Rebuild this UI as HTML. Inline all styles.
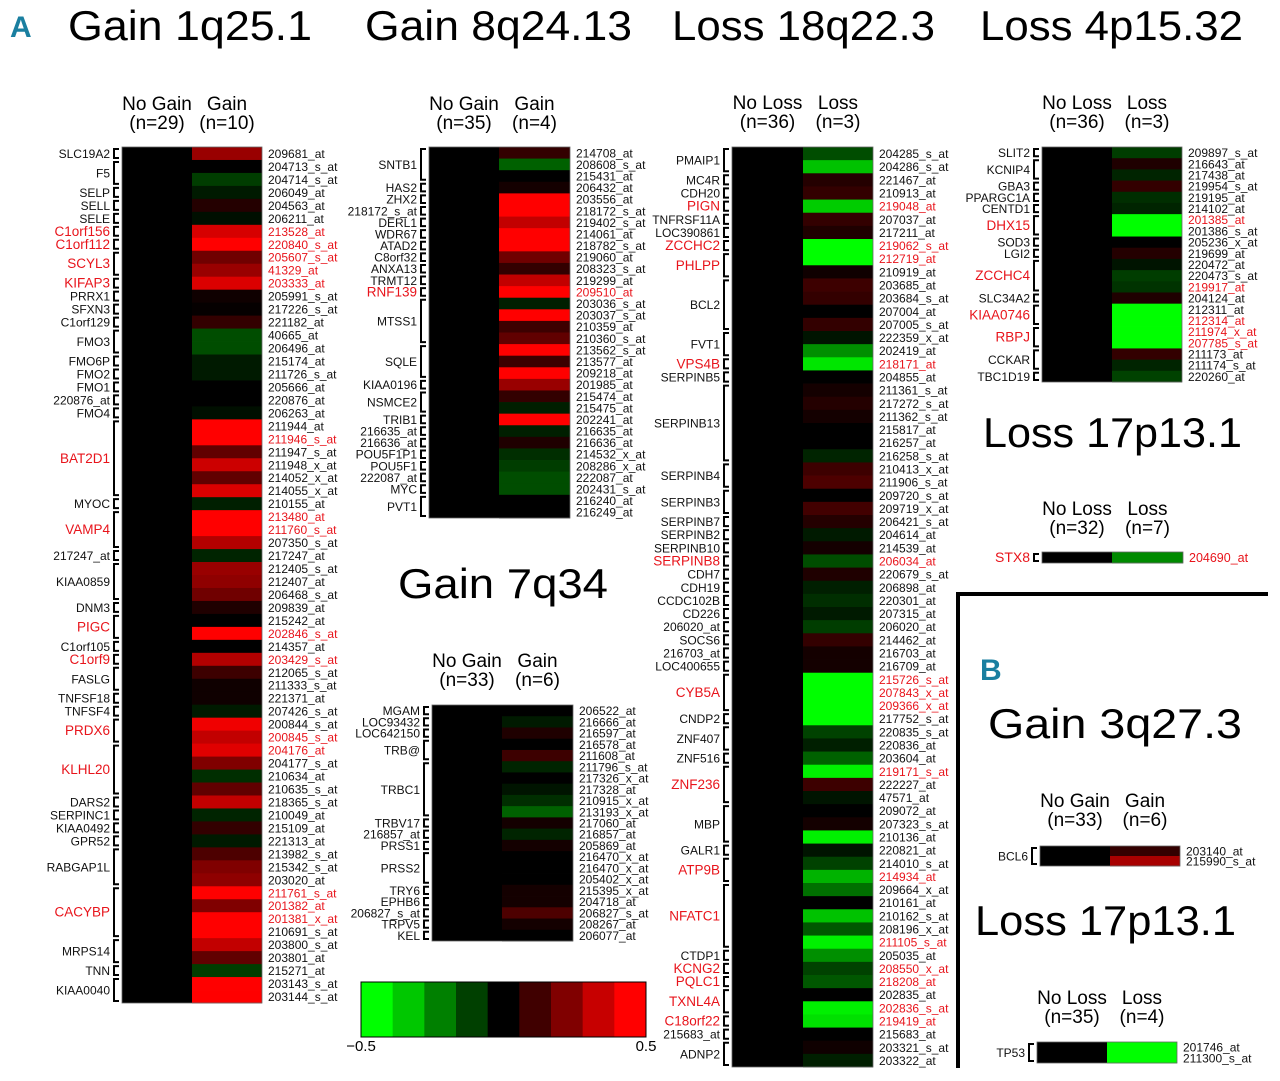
<!DOCTYPE html>
<html><head><meta charset="utf-8">
<style>
html,body{margin:0;padding:0;background:#fff;}
svg{display:block;font-family:"Liberation Sans",sans-serif;}
</style></head>
<body>
<svg id="fig" width="1280" height="1081" viewBox="0 0 1280 1081" xmlns="http://www.w3.org/2000/svg">
  <rect x="0" y="0" width="1280" height="1081" fill="#fff"/>
  <text x="10" y="37" font-size="30" font-weight="bold" fill="#1a7fa0">A</text>
  <text x="68" y="40" font-size="42" textLength="244" lengthAdjust="spacingAndGlyphs">Gain  1q25.1</text>
  <text x="365" y="40" font-size="42" textLength="267" lengthAdjust="spacingAndGlyphs">Gain  8q24.13</text>
  <text x="672" y="40" font-size="42" textLength="263" lengthAdjust="spacingAndGlyphs">Loss  18q22.3</text>
  <text x="980" y="40" font-size="42" textLength="263" lengthAdjust="spacingAndGlyphs">Loss  4p15.32</text>
  <text x="398" y="598" font-size="42" textLength="210" lengthAdjust="spacingAndGlyphs">Gain  7q34</text>
  <text x="983" y="447" font-size="42" textLength="259" lengthAdjust="spacingAndGlyphs">Loss  17p13.1</text>
  <text x="980" y="680" font-size="30" font-weight="bold" fill="#1a7fa0">B</text>
  <text x="988" y="738" font-size="42" textLength="254" lengthAdjust="spacingAndGlyphs">Gain  3q27.3</text>
  <text x="975" y="935" font-size="42" textLength="261" lengthAdjust="spacingAndGlyphs">Loss  17p13.1</text>
  <path d="M1268 594 H958 V1068" fill="none" stroke="#000" stroke-width="4"/>
  <g id="panels"></g>
  <g id="cbar"></g>
</svg>
<script>
// ---------- data ----------
const p1Genes = ["SLC19A2","F5","SELP","SELL","SELE","C1orf156","C1orf112","SCYL3","KIFAP3","PRRX1","SFXN3","C1orf129","FMO3","FMO6P","FMO2","FMO1","220876_at","FMO4","BAT2D1","MYOC","VAMP4","217247_at","KIAA0859","DNM3","PIGC","C1orf105","C1orf9","FASLG","TNFSF18","TNFSF4","PRDX6","KLHL20","DARS2","SERPINC1","KIAA0492","GPR52","RABGAP1L","CACYBP","MRPS14","TNN","KIAA0040"];
const p1Sizes = [1,2,1,1,1,1,1,2,1,1,1,1,2,1,1,1,1,1,6,1,3,1,3,1,2,1,1,2,1,1,2,4,1,1,1,1,3,4,2,1,2];
const p1RedGenes = ["C1orf156","C1orf112","SCYL3","KIFAP3","BAT2D1","VAMP4","PIGC","C1orf9","PRDX6","KLHL20","CACYBP"];
const p1Probes = ["209681_at","204713_s_at","204714_s_at","206049_at","204563_at","206211_at","213528_at","220840_s_at","205607_s_at","41329_at","203333_at","205991_s_at","217226_s_at","221182_at","40665_at","206496_at","215174_at","211726_s_at","205666_at","220876_at","206263_at","211944_at","211946_s_at","211947_s_at","211948_x_at","214052_x_at","214055_x_at","210155_at","213480_at","211760_s_at","207350_s_at","217247_at","212405_s_at","212407_at","206468_s_at","209839_at","215242_at","202846_s_at","214357_at","203429_s_at","212065_s_at","211333_s_at","221371_at","207426_s_at","200844_s_at","200845_s_at","204176_at","204177_s_at","210634_at","210635_s_at","218365_s_at","210049_at","215109_at","221313_at","213982_s_at","215342_s_at","203020_at","211761_s_at","201382_at","201381_x_at","210691_s_at","203800_s_at","203801_at","215271_at","203143_s_at","203144_s_at"];
const p1RedProbes = ["213528_at","220840_s_at","205607_s_at","41329_at","203333_at","211946_s_at","213480_at","211760_s_at","202846_s_at","203429_s_at","200845_s_at","204176_at","211761_s_at","201382_at","201381_x_at"];
const p1Values = [0.3,0,-0.12,-0.05,0.07,-0.03,0.42,0.5,0.22,0.3,0.43,0.03,0.01,0.1,-0.15,-0.15,-0.05,-0.05,0,0,-0.03,0.5,0.5,0.19,0.4,0.19,0.43,-0.06,0.5,0.5,0.35,-0.07,0.3,0.28,0.22,0.06,0,0.5,0,0.35,0.12,0.03,0.03,-0.05,0.47,0.38,0.44,0.25,-0.09,0.19,0.38,-0.07,0.1,-0.05,0.15,0.25,0.28,0.5,0.25,0.5,0.5,0.38,0.19,-0.12,0.5,0.5];

const p2Genes = ["SNTB1","HAS2","ZHX2","218172_s_at","DERL1","WDR67","ATAD2","C8orf32","ANXA13","TRMT12","RNF139","MTSS1","SQLE","KIAA0196","NSMCE2","TRIB1","216635_at","216636_at","POU5F1P1","POU5F1","222087_at","MYC","PVT1"];
const p2Sizes = [3,1,1,1,1,1,1,1,1,1,1,4,3,1,2,1,1,1,1,1,1,1,2];
const p2RedGenes = ["RNF139"];
const p2Probes = ["214708_at","208608_s_at","215431_at","206432_at","203556_at","218172_s_at","219402_s_at","214061_at","218782_s_at","219060_at","208323_s_at","219299_at","209510_at","203036_s_at","203037_s_at","210359_at","210360_s_at","213562_s_at","213577_at","209218_at","201985_at","215474_at","215475_at","202241_at","216635_at","216636_at","214532_x_at","208286_x_at","222087_at","202431_s_at","216240_at","216249_at"];
const p2RedProbes = ["209510_at"];
const p2Values = [0.1,-0.19,0,0.04,0.5,0.5,0.38,0.5,0.5,0.22,0.1,0.38,0.5,-0.06,0.5,0.12,0.19,0.5,0.12,0.5,0.3,0.1,-0.06,0.5,-0.06,0.06,-0.09,-0.12,-0.15,-0.15,0,0];

const p3Genes = ["PMAIP1","MC4R","CDH20","PIGN","TNFRSF11A","LOC390861","ZCCHC2","PHLPP","BCL2","FVT1","VPS4B","SERPINB5","SERPINB13","SERPINB4","SERPINB3","SERPINB7","SERPINB2","SERPINB10","SERPINB8","CDH7","CDH19","CCDC102B","CD226","206020_at","SOCS6","216703_at","LOC400655","CYB5A","CNDP2","ZNF407","ZNF516","ZNF236","MBP","GALR1","ATP9B","NFATC1","CTDP1","KCNG2","PQLC1","TXNL4A","C18orf22","215683_at","ADNP2"];
const p3Sizes = [2,1,1,1,1,1,1,2,4,2,1,1,6,2,2,1,1,1,1,1,1,1,1,1,1,1,1,3,1,2,1,3,3,1,2,5,1,1,1,2,1,1,2];
const p3RedGenes = ["PIGN","ZCCHC2","PHLPP","VPS4B","SERPINB8","CYB5A","ZNF236","ATP9B","NFATC1","KCNG2","PQLC1","TXNL4A","C18orf22"];
const p3Probes = ["204285_s_at","204286_s_at","221467_at","210913_at","219048_at","207037_at","217211_at","219062_s_at","212719_at","210919_at","203685_at","203684_s_at","207004_at","207005_s_at","222359_x_at","202419_at","218171_at","204855_at","211361_s_at","217272_s_at","211362_s_at","215817_at","216257_at","216258_s_at","210413_x_at","211906_s_at","209720_s_at","209719_x_at","206421_s_at","204614_at","214539_at","206034_at","220679_s_at","206898_at","220301_at","207315_at","206020_at","214462_at","216703_at","216709_at","215726_s_at","207843_x_at","209366_x_at","217752_s_at","220835_s_at","220836_at","203604_at","219171_s_at","222227_at","47571_at","209072_at","207323_s_at","210136_at","220821_at","214010_s_at","214934_at","209664_x_at","210161_at","210162_s_at","208196_x_at","211105_s_at","205035_at","208550_x_at","218208_at","202835_at","202836_s_at","219419_at","215683_at","203321_s_at","203322_at"];
const p3RedProbes = ["219048_at","219062_s_at","212719_at","218171_at","206034_at","215726_s_at","207843_x_at","209366_x_at","219171_s_at","214934_at","211105_s_at","208550_x_at","218208_at","202836_s_at","219419_at"];
const p3Values = [-0.15,-0.38,0.07,0.1,-0.4,0.1,0.06,-0.5,-0.5,0.03,0.12,0.1,0,0.1,-0.04,-0.28,-0.45,0,0.04,0.07,0.04,0,0,-0.07,0.12,0.15,0,0.13,0.07,-0.05,0.04,-0.15,0.06,-0.06,-0.09,-0.05,-0.12,0.1,0.04,0.04,-0.5,-0.5,-0.5,-0.5,-0.13,-0.06,-0.19,-0.47,0.12,-0.04,0,0.04,-0.47,-0.04,-0.13,-0.35,-0.22,0,-0.38,-0.17,-0.47,-0.28,-0.13,-0.17,0,-0.47,-0.44,0,0.03,-0.06];

const p4Genes = ["SLIT2","KCNIP4","GBA3","PPARGC1A","CENTD1","DHX15","SOD3","LGI2","ZCCHC4","SLC34A2","KIAA0746","RBPJ","CCKAR","TBC1D19"];
const p4Sizes = [1,2,1,1,1,2,1,1,3,1,2,2,2,1];
const p4RedGenes = ["DHX15","ZCCHC4","KIAA0746","RBPJ"];
const p4Probes = ["209897_s_at","216643_at","217438_at","219954_s_at","219195_at","214102_at","201385_at","201386_s_at","205236_x_at","219699_at","220472_at","220473_s_at","219917_at","204124_at","212311_at","212314_at","211974_x_at","207785_s_at","211173_at","211174_s_at","220260_at"];
const p4RedProbes = ["201385_at","219917_at","212314_at","211974_x_at","207785_s_at"];
const p4Values = [-0.12,0.06,-0.07,0.1,-0.09,-0.07,-0.5,-0.5,0,0.07,-0.04,-0.12,-0.1,0.06,-0.5,-0.5,-0.5,-0.5,0.1,-0.07,-0.13];

const p5Genes = ["MGAM","LOC93432","LOC642150","TRB@","TRBC1","TRBV17","216857_at","PRSS1","PRSS2","TRY6","EPHB6","206827_s_at","TRPV5","KEL"];
const p5Sizes = [1,1,1,2,5,1,1,1,3,1,1,1,1,1];
const p5RedGenes = [];
const p5Probes = ["206522_at","216666_at","216597_at","216578_at","211608_at","211796_s_at","217326_x_at","217328_at","210915_x_at","213193_x_at","217060_at","216857_at","205869_at","216470_x_at","216470_x_at","205402_x_at","215395_x_at","204718_at","206827_s_at","208267_at","206077_at"];
const p5RedProbes = [];
const p5Values = [0,-0.05,0.06,0,0.12,-0.07,0,-0.04,-0.09,-0.19,0.04,-0.07,0.04,0,0,0,0.04,0.04,0.15,0.04,0];

const p6Genes = ["STX8"]; const p6Sizes = [1]; const p6RedGenes = ["STX8"];
const p6Probes = ["204690_at"]; const p6RedProbes = ["204690_at"]; const p6Values = [-0.27];
const p7Genes = ["BCL6"]; const p7Sizes = [2]; const p7RedGenes = [];
const p7Probes = ["203140_at","215990_s_at"]; const p7RedProbes = []; const p7Values = [0.1,0.33];
const p8Genes = ["TP53"]; const p8Sizes = [1]; const p8RedGenes = [];
const p8Probes = ["201746_at\n211300_s_at"]; const p8RedProbes = []; const p8Values = [-0.5];

const cbarValues = [-0.5,-0.39,-0.25,-0.125,0,0.125,0.25,0.39,0.5];
const cbarTicks = ["\u22120.5","0.5"];

// ---------- drawing ----------
const NS = "http://www.w3.org/2000/svg";
function colorOf(v){
  const t = Math.max(0, Math.min(1, Math.abs(v)/0.5));
  const c = Math.round(t*255);
  return v >= 0 ? "rgb("+c+",0,0)" : "rgb(0,"+c+",0)";
}
function mk(tag, attrs, parent){
  const e = document.createElementNS(NS, tag);
  for (const k in attrs) e.setAttribute(k, attrs[k]);
  parent.appendChild(e);
  return e;
}
const root = document.getElementById("panels");

function drawPanel(name, L, genes, sizes, redGenes, probes, redProbes, values){
  const g = mk("g", {}, root);
  
  
  // headers
  const h1 = mk("text", {x:(L.x0+L.xs)/2, y:L.hy, "font-size":19, "text-anchor":"middle"}, g);
  h1.textContent = L.h[0];
  
  
  const h2 = mk("text", {x:(L.xs+L.x1)/2, y:L.hy, "font-size":19, "text-anchor":"middle"}, g);
  h2.textContent = L.h[1];
  
  
  const h3 = mk("text", {x:(L.x0+L.xs)/2, y:L.hy+19, "font-size":19, "text-anchor":"middle"}, g);
  h3.textContent = L.h[2];
  
  
  const h4 = mk("text", {x:(L.xs+L.x1)/2, y:L.hy+19, "font-size":19, "text-anchor":"middle"}, g);
  h4.textContent = L.h[3];
  
  

  const n = values.length;
  const rh = (L.bot - L.top)/n;
  const ctrl = mk("rect", {x:L.x0, y:L.top, width:L.xs-L.x0, height:L.bot-L.top, fill:"#000"}, g);
  
  
  for (let i=0;i<n;i++){
    const r = mk("rect", {x:L.xs, y:L.top+i*rh, width:L.x1-L.xs, height:rh+0.4, fill:colorOf(values[i])}, g);
    
    
    const lines = probes[i].split("\n");
    const red = redProbes.indexOf(probes[i]) >= 0;
    lines.forEach((s, j) => {
      const off = lines.length > 1 ? (j - (lines.length-1)/2) * 11 : 0;
      const t = mk("text", {x:L.x1+6, y:L.top+(i+0.5)*rh+4.5+off, "font-size":L.fs, fill: red ? "#e8141b" : "#111"}, g);
      t.textContent = s;
      
      
    });
  }
  mk("rect", {x:L.x0, y:L.top, width:L.x1-L.x0, height:L.bot-L.top, fill:"none", stroke:"#666", "stroke-width":0.8}, g);
  // gene brackets
  let idx = 0;
  for (let k=0;k<genes.length;k++){
    const y1 = L.top + idx*rh + 2, y2 = L.top + (idx+sizes[k])*rh - 2;
    const bx = L.x0 - 8;
    const b = mk("path", {d:"M"+(bx+5)+" "+y1+" H"+bx+" V"+y2+" H"+(bx+5), fill:"none", stroke:"#000", "stroke-width":2}, g);
    
    
    const red = redGenes.indexOf(genes[k]) >= 0;
    const t = mk("text", {x:L.x0-12, y:(y1+y2)/2+4.5, "font-size": red ? L.fs+1.5 : L.fs, "text-anchor":"end", fill: red ? "#e8141b" : "#111"}, g);
    t.textContent = genes[k];
    
    
    idx += sizes[k];
  }
}

drawPanel("heatmap-gain-1q25", {x0:122,xs:192,x1:262,top:147,bot:1003,hy:110,fs:12,h:["No Gain","Gain","(n=29)","(n=10)"]}, p1Genes,p1Sizes,p1RedGenes,p1Probes,p1RedProbes,p1Values);
drawPanel("heatmap-gain-8q24", {x0:429,xs:499,x1:570,top:147,bot:518,hy:110,fs:12,h:["No Gain","Gain","(n=35)","(n=4)"]}, p2Genes,p2Sizes,p2RedGenes,p2Probes,p2RedProbes,p2Values);
drawPanel("heatmap-loss-18q22", {x0:732,xs:803,x1:873,top:147,bot:1067,hy:109,fs:12,h:["No Loss","Loss","(n=36)","(n=3)"]}, p3Genes,p3Sizes,p3RedGenes,p3Probes,p3RedProbes,p3Values);
drawPanel("heatmap-loss-4p15", {x0:1042,xs:1112,x1:1182,top:147,bot:382,hy:109,fs:12,h:["No Loss","Loss","(n=36)","(n=3)"]}, p4Genes,p4Sizes,p4RedGenes,p4Probes,p4RedProbes,p4Values);
drawPanel("heatmap-gain-7q34", {x0:432,xs:502,x1:573,top:705,bot:941,hy:667,fs:12,h:["No Gain","Gain","(n=33)","(n=6)"]}, p5Genes,p5Sizes,p5RedGenes,p5Probes,p5RedProbes,p5Values);
drawPanel("heatmap-loss-17p13-stx8", {x0:1042,xs:1112,x1:1183,top:552,bot:563,hy:515,fs:12.5,h:["No Loss","Loss","(n=32)","(n=7)"]}, p6Genes,p6Sizes,p6RedGenes,p6Probes,p6RedProbes,p6Values);
drawPanel("heatmap-gain-3q27-bcl6", {x0:1040,xs:1110,x1:1180,top:846,bot:866,hy:807,fs:12,h:["No Gain","Gain","(n=33)","(n=6)"]}, p7Genes,p7Sizes,p7RedGenes,p7Probes,p7RedProbes,p7Values);
drawPanel("heatmap-loss-17p13-tp53", {x0:1037,xs:1107,x1:1177,top:1042,bot:1063,hy:1004,fs:12,h:["No Loss","Loss","(n=35)","(n=4)"]}, p8Genes,p8Sizes,p8RedGenes,p8Probes,p8RedProbes,p8Values);

// color scale
const cb = document.getElementById("cbar");
const cbX0 = 361, cbX1 = 646, cbY = 982, cbH = 55;
const segW = (cbX1 - cbX0)/cbarValues.length;
cbarValues.forEach((v,i) => {
  const r = mk("rect", {x:cbX0+i*segW, y:cbY, width:segW+0.5, height:cbH, fill:colorOf(v)}, cb);
  
  
});
mk("rect", {x:cbX0, y:cbY, width:cbX1-cbX0, height:cbH, fill:"none", stroke:"#000", "stroke-width":1}, cb);
const t0 = mk("text", {x:cbX0, y:1051, "font-size":15, "text-anchor":"middle"}, cb);
t0.textContent = cbarTicks[0];


const t1 = mk("text", {x:cbX1, y:1051, "font-size":15, "text-anchor":"middle"}, cb);
t1.textContent = cbarTicks[1];


</script>
</body></html>
